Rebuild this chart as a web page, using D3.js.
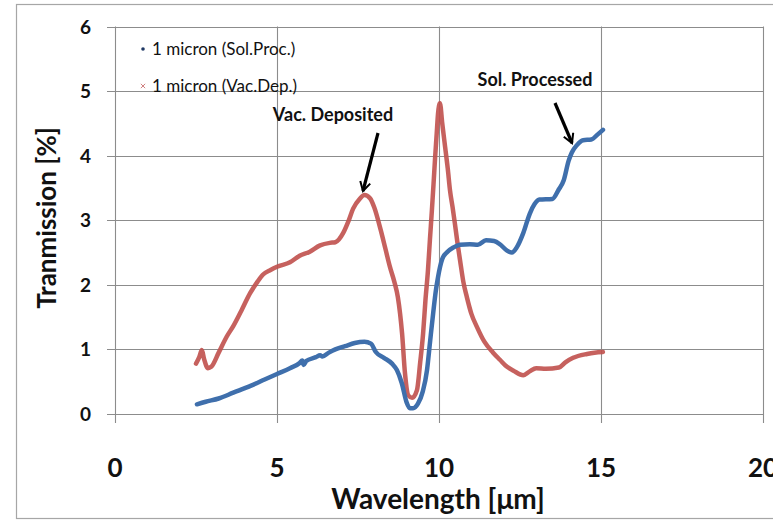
<!DOCTYPE html>
<html>
<head>
<meta charset="utf-8">
<script src="https://cdn.jsdelivr.net/npm/d3@7/dist/d3.min.js"></script>
<style>
  html, body { margin: 0; padding: 0; background: #fff; }
  svg { display: block; }
</style>
</head>
<body>
<svg id="chart" width="773" height="520"></svg>
<script>
// ---- data ----
const xTicks = [0, 5, 10, 15, 20];
const yTicks = [0, 1, 2, 3, 4, 5, 6];
const seriesNames = ["1 micron (Sol.Proc.)", "1 micron (Vac.Dep.)"];

const solX = [2.53, 2.8, 3.2, 3.65, 4.2, 4.6, 5.0, 5.4, 5.7, 5.78, 5.82, 5.9, 6.2, 6.33, 6.4, 6.6, 6.8, 7.1, 7.4, 7.7, 7.9, 8.05, 8.3, 8.55, 8.7, 8.85, 9.0, 9.1, 9.2, 9.35, 9.5, 9.63, 9.72, 9.82, 9.9, 9.97, 10.1, 10.24, 10.45, 10.65, 10.95, 11.2, 11.45, 11.7, 11.9, 12.1, 12.25, 12.4, 12.6, 12.8, 12.95, 13.1, 13.5, 13.7, 13.85, 14.0, 14.1, 14.25, 14.45, 14.7, 14.9, 15.06];
const solY = [0.15, 0.19, 0.24, 0.33, 0.44, 0.53, 0.62, 0.71, 0.79, 0.83, 0.76, 0.82, 0.88, 0.91, 0.89, 0.95, 1.0, 1.05, 1.1, 1.12, 1.09, 0.96, 0.87, 0.78, 0.68, 0.48, 0.18, 0.09, 0.09, 0.16, 0.35, 0.68, 1.1, 1.56, 1.9, 2.12, 2.4, 2.5, 2.58, 2.62, 2.63, 2.62, 2.69, 2.68, 2.62, 2.53, 2.5, 2.58, 2.8, 3.1, 3.25, 3.32, 3.33, 3.48, 3.62, 3.92, 4.05, 4.16, 4.24, 4.25, 4.33, 4.4];

const vacX = [2.5, 2.6, 2.68, 2.75, 2.87, 2.97, 3.2, 3.45, 3.65, 3.9, 4.17, 4.4, 4.57, 4.8, 5.0, 5.4, 5.7, 6.0, 6.33, 6.63, 6.8, 7.04, 7.2, 7.35, 7.55, 7.7, 7.87, 8.0, 8.2, 8.35, 8.49, 8.62, 8.73, 8.8, 8.86, 8.95, 9.05, 9.17, 9.32, 9.42, 9.51, 9.58, 9.66, 9.72, 9.78, 9.83, 9.88, 9.93, 9.97, 10.03, 10.1, 10.19, 10.27, 10.34, 10.42, 10.49, 10.57, 10.65, 10.75, 10.86, 11.0, 11.17, 11.4, 11.67, 11.88, 12.1, 12.3, 12.6, 12.8, 13.0, 13.3, 13.7, 13.9, 14.14, 14.57, 14.8, 15.06];
const vacY = [0.78, 0.88, 0.99, 0.85, 0.71, 0.73, 0.95, 1.2, 1.36, 1.6, 1.87, 2.05, 2.16, 2.23, 2.28, 2.35, 2.45, 2.51, 2.61, 2.65, 2.66, 2.8, 2.98, 3.18, 3.33, 3.39, 3.34, 3.2, 2.85, 2.55, 2.27, 2.05, 1.81, 1.55, 1.25, 0.63, 0.29, 0.25, 0.37, 0.8, 1.25, 1.75, 2.23, 2.7, 3.15, 3.55, 3.97, 4.35, 4.65, 4.81, 4.5, 4.13, 3.8, 3.46, 3.2, 2.95, 2.65, 2.38, 2.05, 1.81, 1.55, 1.35, 1.12, 0.95, 0.84, 0.73, 0.67, 0.6, 0.66, 0.71, 0.70, 0.72, 0.80, 0.87, 0.93, 0.95, 0.96];

const annotations = [
  { text: "Vac. Deposited", x: 333, y: 121, from: [378, 133], to: [363, 191] },
  { text: "Sol. Processed", x: 535, y: 86, from: [555, 103], to: [572, 143] }
];

// ---- layout ----
const svg = d3.select("#chart");
const pLeft = 115, pRight = 763, pTop = 26.5, pBottom = 414;
const x = d3.scaleLinear().domain([0, 20]).range([pLeft, pRight]);
const y = d3.scaleLinear().domain([0, 6]).range([pBottom, pTop]);
const font = "Lato, 'Open Sans', sans-serif";

// outer frame
svg.append("rect").attr("x", 16.5).attr("y", 4.5).attr("width", 800).attr("height", 514)
  .attr("fill", "none").attr("stroke", "#a6a6a6").attr("stroke-width", 1.2);

// grid
const grid = svg.append("g").attr("stroke", "#8c8c8c").attr("stroke-width", 1.1);
grid.selectAll("line.h").data(yTicks).join("line").attr("class", "h")
  .attr("x1", pLeft - 8).attr("x2", pRight)
  .attr("y1", d => Math.round(y(d)) + 0.5).attr("y2", d => Math.round(y(d)) + 0.5);
grid.selectAll("line.v").data(xTicks).join("line").attr("class", "v")
  .attr("y1", pTop).attr("y2", pBottom + 9)
  .attr("x1", d => Math.round(x(d)) + 0.5).attr("x2", d => Math.round(x(d)) + 0.5);

// tick labels
svg.append("g").selectAll("text").data(yTicks).join("text")
  .attr("x", 91).attr("y", d => y(d) + 7)
  .attr("text-anchor", "end").attr("font-family", font).attr("font-weight", "bold")
  .attr("font-size", 19).attr("fill", "#111").text(d => d);
svg.append("g").selectAll("text").data(xTicks).join("text")
  .attr("x", d => x(d)).attr("y", 477)
  .attr("text-anchor", "middle").attr("font-family", font).attr("font-weight", "bold")
  .attr("font-size", 26).attr("fill", "#111").text(d => d);

// axis titles
svg.append("text").attr("transform", "translate(56,218) rotate(-90)")
  .attr("text-anchor", "middle").attr("font-family", font).attr("font-weight", "bold")
  .attr("font-size", 26).attr("fill", "#111").text("Tranmission [%]");
svg.append("text").attr("x", 438).attr("y", 509)
  .attr("text-anchor", "middle").attr("font-family", font).attr("font-weight", "bold")
  .attr("font-size", 28).attr("fill", "#111").text("Wavelength [\u03bcm]");

// series
const solData = solX.map((v, i) => [v, solY[i]]);
const vacData = vacX.map((v, i) => [v, vacY[i]]);
const line = d3.line().x(d => x(d[0])).y(d => y(d[1])).curve(d3.curveMonotoneX);

svg.append("path").datum(vacData).attr("d", line)
  .attr("fill", "none").attr("stroke", "#c0504d").attr("stroke-width", 4.5)
  .attr("stroke-linejoin", "round").attr("stroke-linecap", "round").attr("opacity", 0.9);
svg.append("path").datum(solData).attr("d", line)
  .attr("fill", "none").attr("stroke", "#3f6fac").attr("stroke-width", 4.5)
  .attr("stroke-linejoin", "round").attr("stroke-linecap", "round");

// legend
const leg = svg.append("g").attr("font-family", font).attr("font-size", 17).attr("fill", "#111");
leg.append("circle").attr("cx", 143).attr("cy", 49).attr("r", 1.8).attr("fill", "#1f3864");
leg.append("path").attr("d", d3.symbol(d3.symbolX, 14)()).attr("transform", "translate(143,86)")
  .attr("stroke", "#d08080").attr("stroke-width", 1).attr("fill", "none");
leg.append("text").attr("x", 152).attr("y", 55).text(seriesNames[0]);
leg.append("text").attr("x", 152).attr("y", 92).text(seriesNames[1]);

// annotations with arrows
const defs = svg.append("defs");
defs.append("marker").attr("id", "ah").attr("viewBox", "0 0 10 10").attr("refX", 8).attr("refY", 5)
  .attr("markerWidth", 4).attr("markerHeight", 4).attr("orient", "auto").attr("markerUnits", "strokeWidth")
  .append("path").attr("d", "M1,1 L8,5 L1,9").attr("fill", "none").attr("stroke", "#000").attr("stroke-width", 1.6);
annotations.forEach(a => {
  svg.append("text").attr("x", a.x).attr("y", a.y).attr("text-anchor", "middle")
    .attr("font-family", font).attr("font-weight", "bold").attr("font-size", 18).attr("fill", "#111").text(a.text);
  svg.append("line").attr("x1", a.from[0]).attr("y1", a.from[1]).attr("x2", a.to[0]).attr("y2", a.to[1])
    .attr("stroke", "#000").attr("stroke-width", 3.2).attr("marker-end", "url(#ah)");
});
</script>
</body>
</html>
